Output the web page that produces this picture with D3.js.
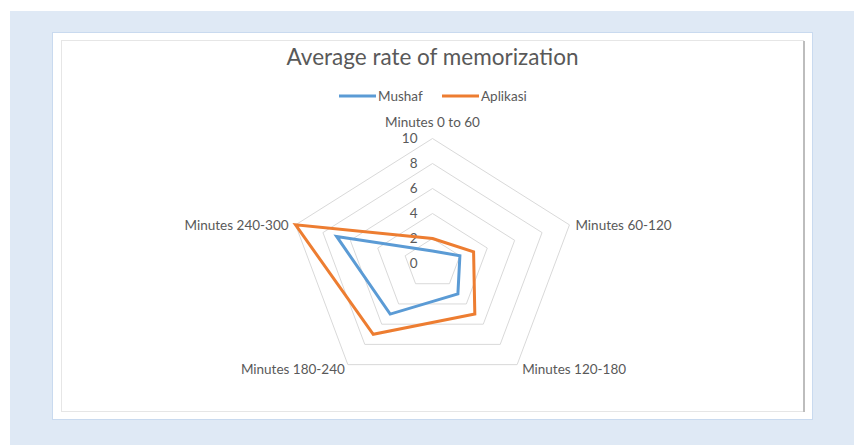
<!DOCTYPE html>
<html>
<head>
<meta charset="utf-8">
<script src="https://cdn.jsdelivr.net/npm/d3@7"></script>
<style>
  body { margin: 0; background: #fff; }
  svg { display: block; }
</style>
</head>
<body>
<div id="chart"></div>
<script>
const categories = ["Minutes 0 to 60", "Minutes 60-120", "Minutes 120-180", "Minutes 180-240", "Minutes 240-300"];
const mushaf = [1, 2, 3, 5, 7];
const aplikasi = [2, 3, 5, 7, 10];
const tickValues = [0, 2, 4, 6, 8, 10];

const series = [
    { name: "Mushaf", values: mushaf, color: "#5b9bd5" },
    { name: "Aplikasi", values: aplikasi, color: "#ed7d31" }
];

const W = 854, H = 445;
const cx = 432.5, cy = 263.5;
const font = "Lato, 'Open Sans', sans-serif";
const textColor = "#595959";

const svg = d3.select("#chart")
    .append("svg")
    .attr("width", W)
    .attr("height", H)
    .style("font-family", font);

// background frame
svg.append("rect").attr("x", 10).attr("y", 11).attr("width", W - 10).attr("height", H - 11).attr("fill", "#dfe9f5");
svg.append("rect").attr("x", 52.5).attr("y", 32.5).attr("width", 760).attr("height", 387)
    .attr("fill", "#fff").attr("stroke", "#c9daef").attr("stroke-width", 1);
svg.append("rect").attr("x", 61.5).attr("y", 40.5).attr("width", 742).attr("height", 371)
    .attr("fill", "#fff").attr("stroke", "#e6e6e6").attr("stroke-width", 1);
svg.append("line").attr("x1", 804).attr("x2", 804).attr("y1", 41).attr("y2", 412)
    .attr("stroke", "#bdbdbd").attr("stroke-width", 2);

// title
svg.append("text")
    .attr("x", cx)
    .attr("y", 65)
    .attr("text-anchor", "middle")
    .style("font-size", "22.5px")
    .style("fill", textColor)
    .text("Average rate of memorization");

// legend
const legend = svg.append("g").attr("transform", "translate(339,96)");
const legendX = [0, 103];
series.forEach((s, i) => {
    const g = legend.append("g").attr("transform", `translate(${legendX[i]},0)`);
    g.append("line").attr("x1", 0).attr("x2", 37).attr("y1", 0).attr("y2", 0)
        .attr("stroke", s.color).attr("stroke-width", 3);
    g.append("text").attr("x", 39).attr("y", 0).attr("dy", "0.35em")
        .style("font-size", "13.5px").style("fill", textColor).text(s.name);
});

// scales
const angle = d3.scaleLinear().domain([0, categories.length]).range([0, 2 * Math.PI]);
const rx = d3.scaleLinear().domain([0, 10]).range([0, 144]);
const ry = d3.scaleLinear().domain([0, 10]).range([0, 125]);

const px = (i, v) => cx + rx(v) * Math.sin(angle(i));
const py = (i, v) => cy - ry(v) * Math.cos(angle(i));

// grid rings
const idx = d3.range(categories.length);
tickValues.filter(t => t > 0).forEach(t => {
    svg.append("path")
        .attr("d", d3.line()(idx.map(i => [px(i, t), py(i, t)])) + "Z")
        .attr("fill", "none")
        .attr("stroke", "#d9d9d9")
        .attr("stroke-width", 1);
});

// tick labels
svg.selectAll(".tick-label")
    .data(tickValues)
    .enter()
    .append("text")
    .attr("class", "tick-label")
    .attr("x", cx - 15)
    .attr("y", d => cy - ry(d))
    .attr("dy", "0.35em")
    .attr("text-anchor", "end")
    .style("font-size", "13.5px")
    .style("fill", textColor)
    .text(d => d);

// category labels
const labelPos = [
    { dx: 0, dy: -16, anchor: "middle" },
    { dx: 6, dy: 0, anchor: "start" },
    { dx: 5, dy: 5, anchor: "start" },
    { dx: -3, dy: 5, anchor: "end" },
    { dx: -7, dy: 0, anchor: "end" }
];
svg.selectAll(".cat-label")
    .data(categories)
    .enter()
    .append("text")
    .attr("class", "cat-label")
    .attr("x", (d, i) => px(i, 10) + labelPos[i].dx)
    .attr("y", (d, i) => py(i, 10) + labelPos[i].dy)
    .attr("dy", "0.35em")
    .attr("text-anchor", (d, i) => labelPos[i].anchor)
    .style("font-size", "13.5px")
    .style("fill", textColor)
    .text(d => d);

// series
series.forEach(s => {
    svg.append("path")
        .attr("d", d3.line()(s.values.map((v, i) => [px(i, v), py(i, v)])) + "Z")
        .attr("fill", "none")
        .attr("stroke", s.color)
        .attr("stroke-width", 3)
        .attr("stroke-linejoin", "miter");
});
</script>
</body>
</html>
